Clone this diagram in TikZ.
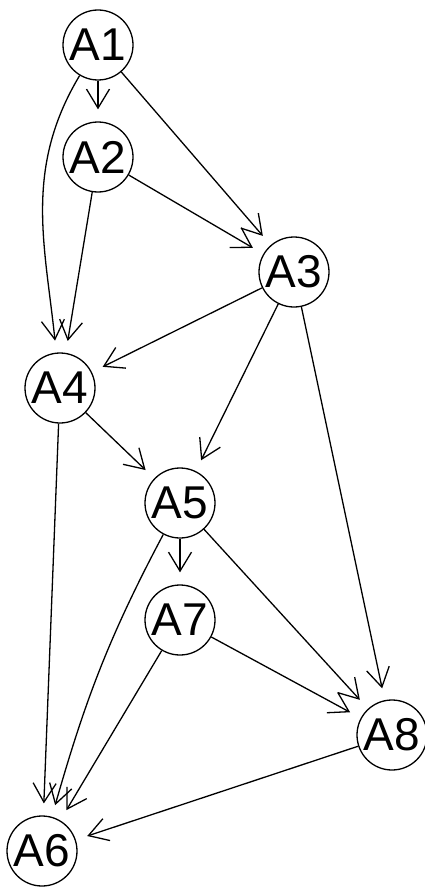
\documentclass[tikz,border=0pt]{standalone}
\usepackage{fontspec}
\setmainfont{Liberation Sans}
\usetikzlibrary{arrows.meta}
\begin{document}
\begin{tikzpicture}[x=1pt,y=-1pt,
  vnode/.style={circle,draw,line width=1.3pt,minimum size=70pt,inner sep=0pt,
    font=\fontsize{46}{46}\selectfont},
  edge/.style={line width=1.3pt,-{Straight Barb[length=19pt,width=23pt]},shorten >=12pt}]
\useasboundingbox (0,0) rectangle (425,888);
\node[vnode] (A1) at (98,45) {A1};
\node[vnode] (A2) at (98,157) {A2};
\node[vnode] (A3) at (294,272) {A3};
\node[vnode] (A4) at (60,388) {A4};
\node[vnode] (A5) at (180,503) {A5};
\node[vnode] (A7) at (180,620) {A7};
\node[vnode] (A8) at (392,735) {A8};
\node[vnode] (A6) at (42,851) {A6};
\draw[edge] (A1) -- (A2);
\draw[edge] (A1) -- (A3);
\draw[edge] (A1) to[out=239,in=96] (A4);
\draw[edge] (A2) -- (A3);
\draw[edge] (A2) -- (A4);
\draw[edge] (A3) -- (A4);
\draw[edge] (A3) -- (A5);
\draw[edge] (A3) -- (A8);
\draw[edge] (A4) -- (A5);
\draw[edge] (A4) -- (A6);
\draw[edge] (A5) -- (A7);
\draw[edge] (A5) -- (A8);
\draw[edge] (A5) to[out=242,in=74] (A6);
\draw[edge] (A7) -- (A8);
\draw[edge] (A7) -- (A6);
\draw[edge] (A8) -- (A6);
\end{tikzpicture}
\end{document}
